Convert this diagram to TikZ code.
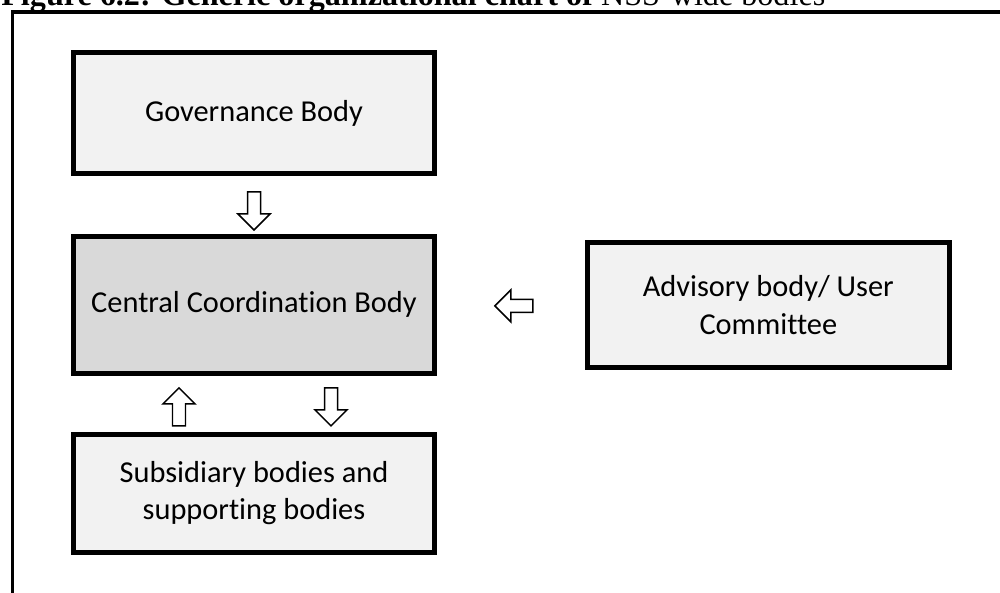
\documentclass[tikz,border=0pt]{standalone}
\usepackage{fontspec}
\setmainfont{Liberation Serif}
\newfontfamily\bodyfont[Ligatures=CommonOff]{Carlito}
\usepackage{tikz}
\usetikzlibrary{calc,positioning}
\usepackage{xcolor}
\definecolor{bodygray}{RGB}{242,242,242}
\definecolor{centralgray}{RGB}{217,217,217}

\tikzset{
  bodybox/.style={draw=black, line width=2.8pt, fill=bodygray, align=center, inner sep=0pt,
    font=\bodyfont\fontsize{17.3}{21.3}\selectfont},
  hollow/.style={draw=black, line width=0.85pt, fill=white, line join=miter},
  pics/hollowarrow/.style={code={
    \draw[hollow] (-19,-6.5) -- (3,-6.5) -- (3,-16) -- (19,0) -- (3,16) -- (3,6.5) -- (-19,6.5) -- cycle;
  }}
}

\begin{document}
\begin{tikzpicture}[x=0.02cm, y=-0.02cm]

\useasboundingbox (0,0) rectangle (1000,592);

% Caption (cut by the page) and frame
\node[anchor=base west, inner sep=0pt, font=\fontsize{18.3}{22}\selectfont] (caption) at (1,5)
    {\textbf{Figure 6.2: Generic organizational chart of} NSS-wide bodies};
\draw[line width=2.2pt] (12.5,11.7) rectangle (1030,620);

% Bodies
\node[bodybox, minimum width=7.22cm, minimum height=2.42cm] (gov) at (254,113) {Governance Body};
\node[bodybox, fill=centralgray, minimum width=7.22cm, minimum height=2.74cm, below=1.16cm of gov] (central)
    {Central Coordination Body};
\node[bodybox, minimum width=7.22cm, minimum height=2.36cm, below=1.12cm of central] (sub)
    {Subsidiary bodies and\\supporting bodies};
\node[bodybox, minimum width=7.24cm, minimum height=2.5cm, right=2.96cm of central] (adv)
    {Advisory body/ User\\Committee};

% Block arrows
\pic[rotate=-90] at ($(gov.south)+(0,35)$) {hollowarrow};
\pic[rotate=90] at ($(central.south)+(-75,31)$) {hollowarrow};
\pic[rotate=-90] at ($(central.south)+(77,31)$) {hollowarrow};
\pic[rotate=180] at ($(adv.west)+(-71,1)$) {hollowarrow};

\end{tikzpicture}
\end{document}
